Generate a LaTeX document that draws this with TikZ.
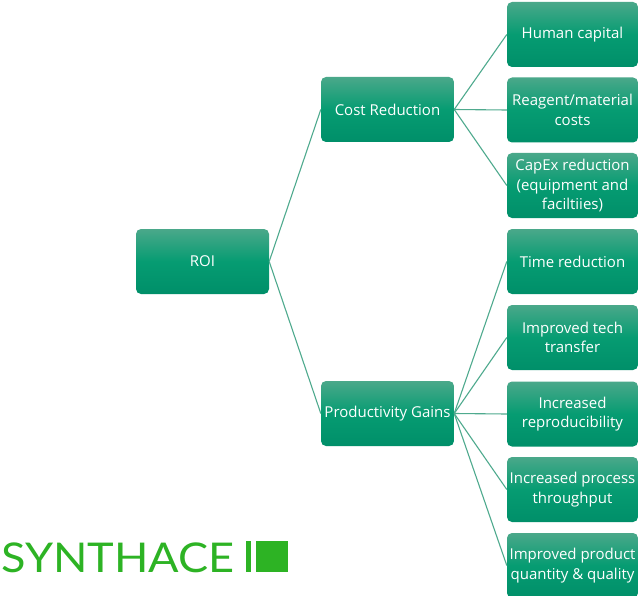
\documentclass[tikz,border=0pt]{standalone}
\usepackage{fontspec}
\setmainfont{Open Sans}
\newfontfamily\logofont{Lato}
\definecolor{gtop}{HTML}{4AA88A}
\definecolor{gmid}{HTML}{069C72}
\definecolor{gbot}{HTML}{008F69}
\definecolor{link}{HTML}{4FAA8E}
\definecolor{logogreen}{HTML}{2DB324}
\begin{document}
\begin{tikzpicture}[x=1pt,y=-1pt,
  box/.style={rounded corners=5pt,top color=gtop,bottom color=gbot,middle color=gmid,draw=none,text=white,
    align=center,inner sep=0pt,font=\fontsize{15}{19.5}\selectfont},
  wideb/.style={box,minimum width=133pt,minimum height=65pt},
  leaf/.style={box,minimum width=131pt,minimum height=65pt},
  link/.style={draw=link,line width=1.1pt}]
\useasboundingbox (0,0) rectangle (639,596);
\fill[white] (0,0) rectangle (639,596);
\node[wideb] (roi) at (202.5,261.5) {ROI};
\node[wideb] (cost) at (387.5,109.5) {Cost Reduction};
\node[wideb] (prod) at (387.5,413.5) {Productivity Gains};
\node[leaf] (a) at (572.5,34.5) {Human capital};
\node[leaf] (b) at (572.5,110) {Reagent/material\\costs};
\node[leaf] (c) at (572.5,185.5) {CapEx reduction\\(equipment and\\faciltiies)};
\node[leaf] (d) at (572.5,261.5) {Time reduction};
\node[leaf] (e) at (572.5,337.5) {Improved tech\\transfer};
\node[leaf] (f) at (572.5,414) {Increased\\reproducibility};
\node[leaf] (g) at (572.5,489.5) {Increased process\\throughput};
\node[leaf] (h) at (572.5,565.5) {Improved product\\quantity \& quality};
\foreach \u/\v in {roi/cost,roi/prod,cost/a,cost/b,cost/c,prod/d,prod/e,prod/f,prod/g,prod/h}
  \draw[link] (\u.east) -- (\v.west);
\node[anchor=base west,inner sep=0pt,text=logogreen,font=\logofont\fontsize{41}{41}\selectfont,xscale=1.1] (logo) at (1,572) {SYNTHACE};
\fill[logogreen] (246,541) rectangle (251,572);
\fill[logogreen] (256,541) rectangle (288,572);
\end{tikzpicture}
\end{document}
